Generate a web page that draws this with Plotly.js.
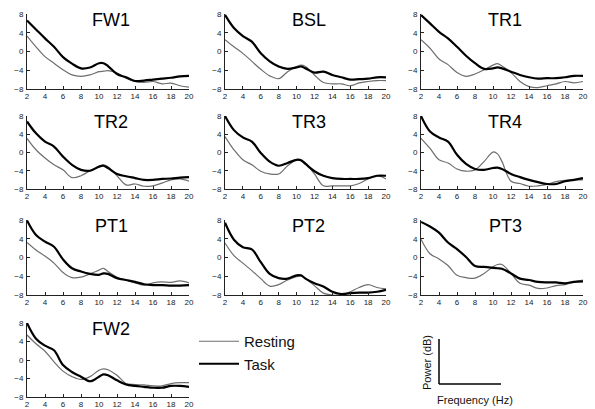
<!DOCTYPE html>
<html>
<head>
<meta charset="utf-8">
<script src="https://cdn.plot.ly/plotly-3.0.1.min.js"></script>
<style>html,body{margin:0;padding:0;background:#fff;}#chart{width:595px;height:409px;}</style>
</head>
<body>
<div id="chart"></div>
<script>
const freq = [2,3,4,5,6,7,8,9,10,10.5,11,12,13,14,15,16,17,18,19,20];
const panelNames = ["FW1","BSL","TR1","TR2","TR3","TR4","PT1","PT2","PT3","FW2"];
const xTicks = [2,4,6,8,10,12,14,16,18,20];
const yTicks = [-8,-4,0,4,8];

const taskFW1 = [6.6,4.7,2.8,1.0,-1.2,-2.6,-3.6,-3.4,-2.5,-2.5,-3.1,-4.8,-5.5,-6.3,-6.2,-6.0,-5.8,-5.6,-5.3,-5.2];
const restFW1 = [3.3,1.0,-1.1,-2.5,-3.9,-5.0,-5.3,-5.0,-4.3,-4.2,-4.1,-4.6,-5.7,-6.4,-6.6,-6.4,-6.9,-6.75,-7.3,-7.6];
const taskBSL = [7.8,5.0,3.3,2.1,-0.4,-2.1,-3.2,-3.7,-3.4,-3.2,-3.6,-4.5,-4.3,-5.0,-5.5,-6.0,-5.9,-5.8,-5.5,-5.5];
const restBSL = [2.5,1.0,-0.4,-2.1,-3.8,-5.2,-5.8,-4.3,-3.2,-2.9,-3.2,-5.0,-6.6,-6.9,-6.9,-7.3,-6.7,-6.4,-6.2,-6.2];
const taskTR1 = [7.8,6.0,4.2,2.8,1.0,-0.9,-2.5,-3.7,-3.6,-3.4,-3.6,-4.3,-5.0,-5.5,-5.8,-5.7,-5.7,-5.5,-5.2,-5.2];
const restTR1 = [2.5,0.7,-1.6,-2.8,-4.5,-5.3,-4.8,-3.9,-2.9,-2.6,-3.1,-4.5,-6.4,-7.5,-7.7,-7.3,-6.9,-6.4,-6.7,-6.4];
const taskTR2 = [6.8,4.2,2.4,1.3,-0.9,-2.7,-3.8,-4.0,-3.1,-2.9,-3.4,-4.7,-5.2,-5.6,-6.0,-6.0,-5.8,-5.7,-5.5,-5.4];
const restTR2 = [3.1,0.6,-1.2,-2.7,-3.8,-5.5,-5.1,-4.0,-3.1,-2.7,-3.1,-5.1,-7.1,-6.9,-7.4,-7.3,-6.7,-6.0,-5.8,-6.3];
const taskTR3 = [8.0,4.9,3.3,2.4,-0.1,-2.0,-2.9,-2.3,-1.6,-1.7,-2.5,-4.1,-5.1,-5.6,-5.8,-5.8,-5.8,-5.6,-5.1,-5.1];
const restTR3 = [3.5,0.6,-1.6,-2.7,-4.1,-4.7,-4.7,-2.9,-1.6,-1.8,-2.3,-4.7,-7.3,-7.3,-7.3,-7.3,-6.8,-5.8,-5.1,-5.8];
const taskTR4 = [8.0,4.6,3.3,2.4,-0.5,-2.5,-3.6,-3.8,-3.4,-3.3,-3.6,-4.7,-5.4,-6.0,-6.5,-6.9,-6.9,-6.3,-6.0,-5.6];
const restTR4 = [3.1,0.9,-1.6,-2.3,-3.6,-4.1,-3.8,-2.0,0.1,-0.3,-2.0,-6.3,-6.8,-7.4,-7.3,-7.0,-6.4,-6.1,-6.0,-6.0];
const taskPT1 = [7.9,4.8,3.4,2.3,-0.4,-2.3,-3.0,-3.5,-3.7,-3.4,-3.5,-4.4,-4.8,-5.2,-5.7,-5.9,-5.9,-6.0,-6.0,-5.9];
const restPT1 = [3.2,1.6,0.3,-1.2,-3.2,-4.3,-4.2,-3.5,-2.7,-2.3,-3.0,-4.2,-4.8,-5.4,-5.9,-5.4,-5.2,-5.3,-5.0,-5.4];
const taskPT2 = [7.4,3.8,2.2,1.75,-1.0,-3.5,-4.4,-4.5,-3.8,-3.8,-4.5,-5.5,-6.2,-7.3,-7.8,-7.6,-7.5,-7.5,-7.3,-6.9];
const restPT2 = [3.1,0.4,-1.2,-2.8,-4.5,-6.1,-5.8,-4.8,-4.1,-4.0,-4.5,-6.0,-7.6,-8.0,-8.0,-7.3,-6.4,-5.8,-6.4,-6.7];
const taskPT3 = [7.6,6.6,5.3,3.2,1.8,0.1,-1.8,-2.0,-2.2,-2.3,-2.4,-3.4,-4.5,-4.8,-5.2,-5.3,-5.3,-5.5,-5.2,-5.1];
const restPT3 = [3.9,0.8,-0.3,-1.7,-3.8,-4.3,-4.4,-3.4,-2.0,-1.5,-1.5,-3.4,-5.5,-5.9,-6.6,-6.5,-6.0,-5.8,-5.2,-4.8];
const taskFW2 = [8.0,4.6,3.1,2.1,-1.1,-2.6,-3.6,-4.6,-3.6,-3.1,-3.3,-4.4,-5.3,-5.6,-5.8,-6.0,-6.0,-5.6,-5.6,-5.8];
const restFW2 = [5.4,3.5,1.9,-0.4,-2.4,-3.6,-4.2,-3.6,-2.2,-1.9,-2.1,-3.3,-5.1,-5.3,-5.4,-5.6,-5.6,-5.1,-4.9,-4.9];

const taskData = [taskFW1,taskBSL,taskTR1,taskTR2,taskTR3,taskTR4,taskPT1,taskPT2,taskPT3,taskFW2];
const restData = [restFW1,restBSL,restTR1,restTR2,restTR3,restTR4,restPT1,restPT2,restPT3,restFW2];

const W = 595, H = 409;
const colX = [[27,189],[225,386],[421,583]];
const rowY = [[14,89],[116,189],[220,295],[323,397]];

const traces = [];
const layout = {
  width: W, height: H,
  margin: {l:0,r:0,t:0,b:0},
  paper_bgcolor: '#fff', plot_bgcolor: '#fff',
  font: {family: 'Liberation Sans, Arial, sans-serif', color: '#222'},
  showlegend: true,
  legend: {x: 194/W, y: 1-325/H, xanchor: 'left', yanchor: 'top', itemwidth: 40,
           font: {size: 15, color: '#111'}, bgcolor: 'rgba(0,0,0,0)',
           traceorder: 'normal', tracegroupgap: 0},
  annotations: [], shapes: []
};

panelNames.forEach((name, i) => {
  const r = Math.floor(i/3), c = i%3;
  const ax = i === 0 ? '' : String(i+1);
  const xk = 'xaxis' + ax, yk = 'yaxis' + ax;
  const common = {showline: true, linecolor: '#222', linewidth: 1, showgrid: false, zeroline: false,
    ticks: 'inside', ticklen: 3, tickcolor: '#222', tickfont: {size: 8, color: '#222'}, fixedrange: true};
  layout[xk] = Object.assign({}, common, {domain: [colX[c][0]/W, colX[c][1]/W], range: [2,20],
    tickvals: xTicks, anchor: 'y' + ax, ticklabelstandoff: -1});
  layout[yk] = Object.assign({}, common, {domain: [1-rowY[r][1]/H, 1-rowY[r][0]/H], range: [-8,8],
    tickvals: yTicks, anchor: 'x' + ax, ticklabelstandoff: 1});
  traces.push({x: freq, y: restData[i], xaxis: 'x'+ax, yaxis: 'y'+ax, type: 'scatter', mode: 'lines',
    name: 'Resting', showlegend: i === 0, line: {color: '#6e6e6e', width: 1.2, shape: 'spline', smoothing: 1}});
  traces.push({x: freq, y: taskData[i], xaxis: 'x'+ax, yaxis: 'y'+ax, type: 'scatter', mode: 'lines',
    name: 'Task', showlegend: i === 0, line: {color: '#000', width: 2.2, shape: 'spline', smoothing: 1}});
  layout.annotations.push({text: name, xref: 'x'+ax+' domain', yref: 'y'+ax+' domain', x: 0.52, y: 0.92,
    xanchor: 'center', yanchor: 'middle', showarrow: false, font: {size: 18, color: '#000'}});
});

// axis-meaning key
layout.shapes.push({type:'line', xref:'paper', yref:'paper', x0:439/W, x1:439/W, y0:1-339/H, y1:1-384/H, line:{color:'#000', width:1.5}});
layout.shapes.push({type:'line', xref:'paper', yref:'paper', x0:439/W, x1:501/W, y0:1-384/H, y1:1-384/H, line:{color:'#000', width:1.5}});
layout.annotations.push({text:'Power (dB)', xref:'paper', yref:'paper', x:427/W, y:1-363/H, textangle:-90,
  showarrow:false, xanchor:'center', yanchor:'middle', font:{size:11, color:'#111'}});
layout.annotations.push({text:'Frequency (Hz)', xref:'paper', yref:'paper', x:475/W, y:1-400/H,
  showarrow:false, xanchor:'center', yanchor:'middle', font:{size:11, color:'#111'}});

Plotly.newPlot('chart', traces, layout, {displayModeBar: false, staticPlot: true});
</script>
</body>
</html>
